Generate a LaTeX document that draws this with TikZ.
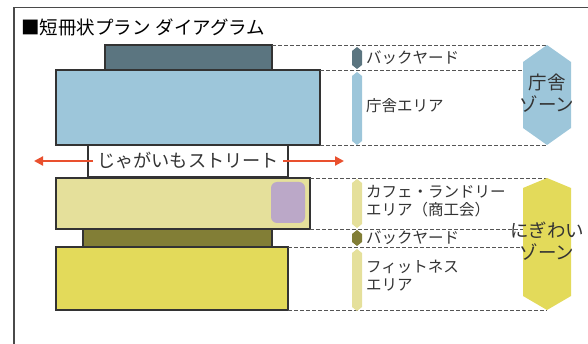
\documentclass[tikz,border=0pt]{standalone}
\usepackage{fontspec}
\setmainfont{Noto Sans CJK JP}
\usetikzlibrary{arrows.meta}
\definecolor{darkteal}{HTML}{5B7580}
\definecolor{lightblue}{HTML}{9DC6DA}
\definecolor{paleyellow}{HTML}{E5E09B}
\definecolor{lilac}{HTML}{BBA8C8}
\definecolor{olive}{HTML}{827E36}
\definecolor{mustard}{HTML}{E3DA5A}
\definecolor{redc}{HTML}{E9502E}
\definecolor{txtc}{HTML}{333333}
\definecolor{dashc}{HTML}{555555}
\definecolor{bordc}{HTML}{333333}
\definecolor{framec}{HTML}{4A4A4A}
\newcommand\zbar[4]{\fill[#4] ({#1-5},{#2+4}) -- (#1,#2) -- ({#1+5},{#2+4}) -- ({#1+5},{#3-4}) -- (#1,#3) -- ({#1-5},{#3-4}) -- cycle;}
\begin{document}
\begin{tikzpicture}[x=1pt,y=-1pt,
  box/.style={draw=bordc, line width=1.2pt, inner sep=0pt, outer sep=0pt, anchor=north west},
  dash line/.style={draw=dashc, line width=0.8pt, dash pattern=on 4pt off 2pt},
  lab/.style={anchor=west, inner sep=0pt, text=txtc, font=\fontsize{15.5}{18}\selectfont, align=left},
  zone/.style={inner sep=0pt, text=txtc, font=\fontsize{18.5}{22}\selectfont, align=center},
  redarrow/.style={draw=redc, line width=2.2pt, -{Triangle[length=9pt,width=9pt]}}
]
\useasboundingbox (0,0) rectangle (588,344);
% frame
\draw[line width=1.3pt, draw=framec] (590,7.5) -- (14,7.5) -- (14,346);
% title
\node[anchor=west, inner sep=0pt, font=\fontsize{18.5}{20}\selectfont, text=black] (title) at (21,27) {■短冊状プラン\hspace{5pt}ダイアグラム};
% zone hexagon coordinates
\coordinate (zt) at (547,45);
\coordinate (zb) at (547,145);
\coordinate (nt) at (547,178);
\coordinate (nb) at (547,310);
% boxes
\node[box, fill=lightblue, minimum width=264pt, minimum height=75pt] (ch) at (56,70) {};
\node[box, fill=darkteal, minimum width=167pt, minimum height=25pt] (by1) at (105,45) {};
\node[box, fill=white, minimum width=200pt, minimum height=32pt, text=txtc, font=\fontsize{18.2}{20}\selectfont] (st) at (88,145) {じゃがいもストリート};
\node[box, fill=paleyellow, minimum width=254pt, minimum height=51pt] (cafe) at (56,178) {};
\node[box, draw=none, fill=lilac, rounded corners=6pt, minimum width=34pt, minimum height=41pt] (pur) at (271,182) {};
\node[box, fill=olive, minimum width=189pt, minimum height=18pt] (by2) at (83,229) {};
\node[box, fill=mustard, minimum width=232pt, minimum height=63pt] (fit) at (56,247) {};
% street arrows
\coordinate (sl) at (34,161);
\coordinate (sr) at (344,161);
\draw[redarrow] ([xshift=5pt]st.west) -- (sl);
\draw[redarrow] ([xshift=-5pt]st.east) -- (sr);
% dashed lines
\draw[dash line] (by1.north east) -- (zt);
\draw[dash line] (ch.north east) -- (523,70);
\draw[dash line] (ch.south east) -- (zb);
\draw[dash line] (cafe.north east) -- (nt);
\draw[dash line] (cafe.south east) -- (523,229);
\draw[dash line] (fit.north east) -- (523,247);
\draw[dash line] (fit.south east) -- (nb);
% small bars
\zbar{357}{47}{69}{darkteal}
\zbar{357}{72}{145}{lightblue}
\zbar{357}{179}{228}{paleyellow}
\zbar{357}{230}{246}{olive}
\zbar{357}{249}{311}{paleyellow}
% zone hexagons
\fill[lightblue] (zt) -- (571,62) -- (571,128) -- (zb) -- (523,128) -- (523,62) -- cycle;
\fill[mustard] (nt) -- (571,188) -- (571,296) -- (nb) -- (523,296) -- (523,188) -- cycle;
% labels
\node[lab] (l1) at (366,58) {バックヤード};
\node[lab] (l2) at (366,106) {庁舎エリア};
\node[lab] (l3) at (366,201) {カフェ・ランドリー\\エリア（商工会）};
\node[lab] (l4) at (366,238) {バックヤード};
\node[lab] (l5) at (366,276) {フィットネス\\エリア};
\node[zone] (z1) at (547,93) {庁舎\\ゾーン};
\node[zone] (z2) at (547,241) {にぎわい\\ゾーン};
\end{tikzpicture}
\end{document}
